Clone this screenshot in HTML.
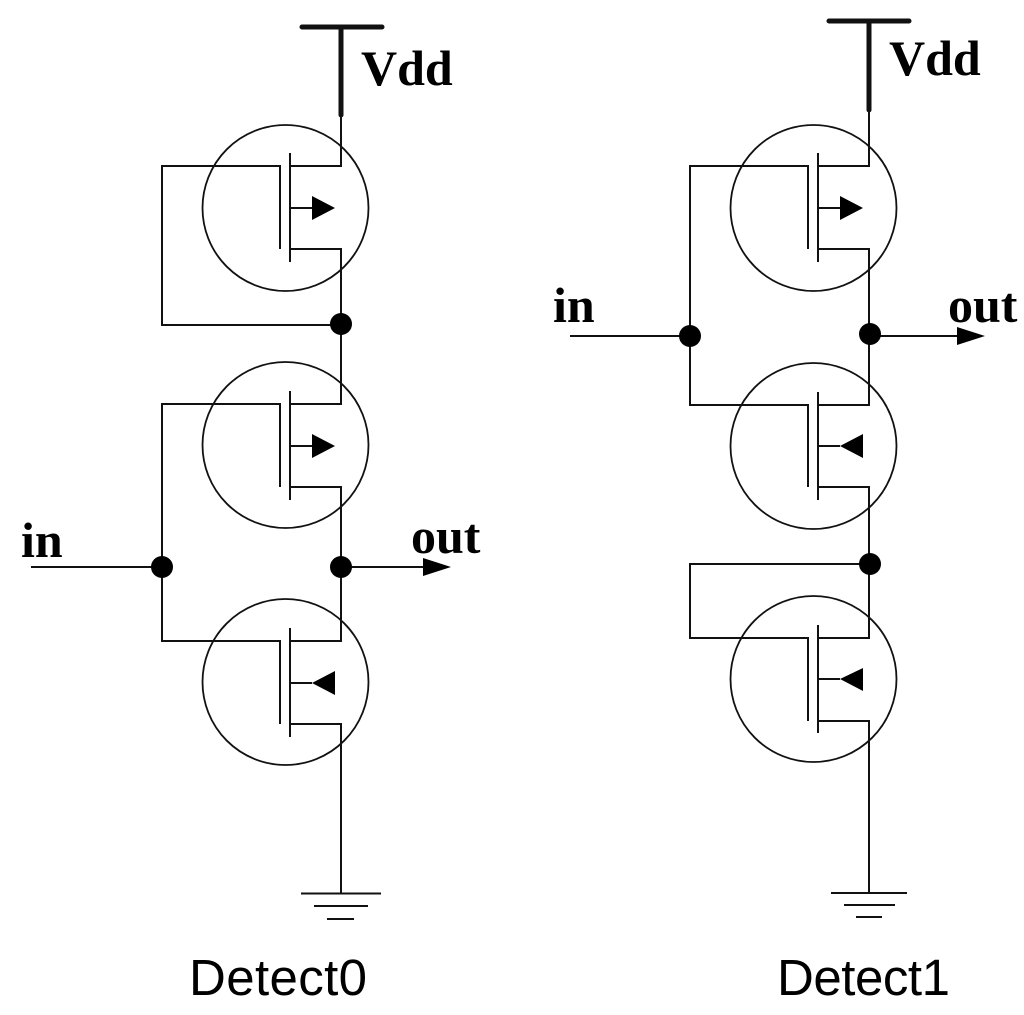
<!DOCTYPE html>
<html>
<head>
<meta charset="utf-8">
<style>
html,body{margin:0;padding:0;background:#fff;width:1024px;height:1015px;overflow:hidden}
svg{display:block}
.w{fill:none;stroke:#111;stroke-width:2}
.t{fill:none;stroke:#111;stroke-width:5;stroke-linecap:round}
.c{fill:none;stroke:#111;stroke-width:1.8}
.s{font-family:"Liberation Serif",serif;font-weight:bold;font-size:50px;fill:#000;font-kerning:none}
.a{font-family:"Liberation Sans",sans-serif;font-size:51px;fill:#000;font-kerning:none}
</style>
</head>
<body>
<svg width="1024" height="1015" viewBox="0 0 1024 1015" xmlns="http://www.w3.org/2000/svg">
<rect width="1024" height="1015" fill="#fff"/>

<!-- Detect0 -->
<path class="t" d="M302 27H382M341 27V115"/>
<circle class="c" cx="285.5" cy="208" r="83"/>
<circle class="c" cx="285.5" cy="445" r="83"/>
<circle class="c" cx="285.5" cy="682" r="83"/>
<path class="w" d="M341 115V166H290M290 249H341V404H290M290 487H341V641H290M290 724H341V893"/>
<path class="w" d="M280 249V166H162V325H341"/>
<path class="w" d="M280 487V404H162V641H280V724"/>
<path class="w" d="M290 153V262M290 391V500M290 628V737"/>
<path class="w" d="M290 208H312M290 446H312M290 683H312"/>
<path class="w" d="M31 567H162M341 567H425"/>
<path d="M312 196V220L335 208ZM312 434V458L335 446ZM335 671V695L312 683ZM423 558V576L451 567Z" fill="#000"/>
<circle cx="341" cy="324" r="11" fill="#000"/>
<circle cx="162" cy="567" r="11" fill="#000"/>
<circle cx="341" cy="567" r="11" fill="#000"/>
<path class="w" d="M301 893.5H381M314 906H368M327 919H354"/>
<text class="s" x="361" y="85">Vdd</text>
<text class="s" x="21" y="557">in</text>
<text class="s" x="411" y="553">out</text>
<text class="a" x="189" y="995" textLength="178">Detect0</text>

<!-- Detect1 -->
<path class="t" d="M829 21H909M869 21V110"/>
<circle class="c" cx="813.5" cy="208" r="83"/>
<circle class="c" cx="813.5" cy="446" r="83"/>
<circle class="c" cx="813.5" cy="679" r="83"/>
<path class="w" d="M869 110V166H818M818 249H869V405H818M818 487H869V638H818M818 721H869V893"/>
<path class="w" d="M808 249V166H690V405H808V487"/>
<path class="w" d="M808 721V638H690V564H869"/>
<path class="w" d="M818 153V262M818 392V500M818 625V733"/>
<path class="w" d="M818 208H840M818 446H840M818 679H840"/>
<path class="w" d="M570 336H690M870 336H959"/>
<path d="M840 196V220L863 208ZM863 434V458L840 446ZM863 668V691L840 679ZM957 327V345L985 336Z" fill="#000"/>
<circle cx="690" cy="336" r="11" fill="#000"/>
<circle cx="870" cy="334" r="11" fill="#000"/>
<circle cx="870" cy="564" r="11" fill="#000"/>
<path class="w" d="M831 893H907M844 905H895M856 917H882"/>
<text class="s" x="889" y="75">Vdd</text>
<text class="s" x="553" y="322">in</text>
<text class="s" x="948" y="322">out</text>
<text class="a" x="777" y="995" textLength="173">Detect1</text>
</svg>
</body>
</html>
